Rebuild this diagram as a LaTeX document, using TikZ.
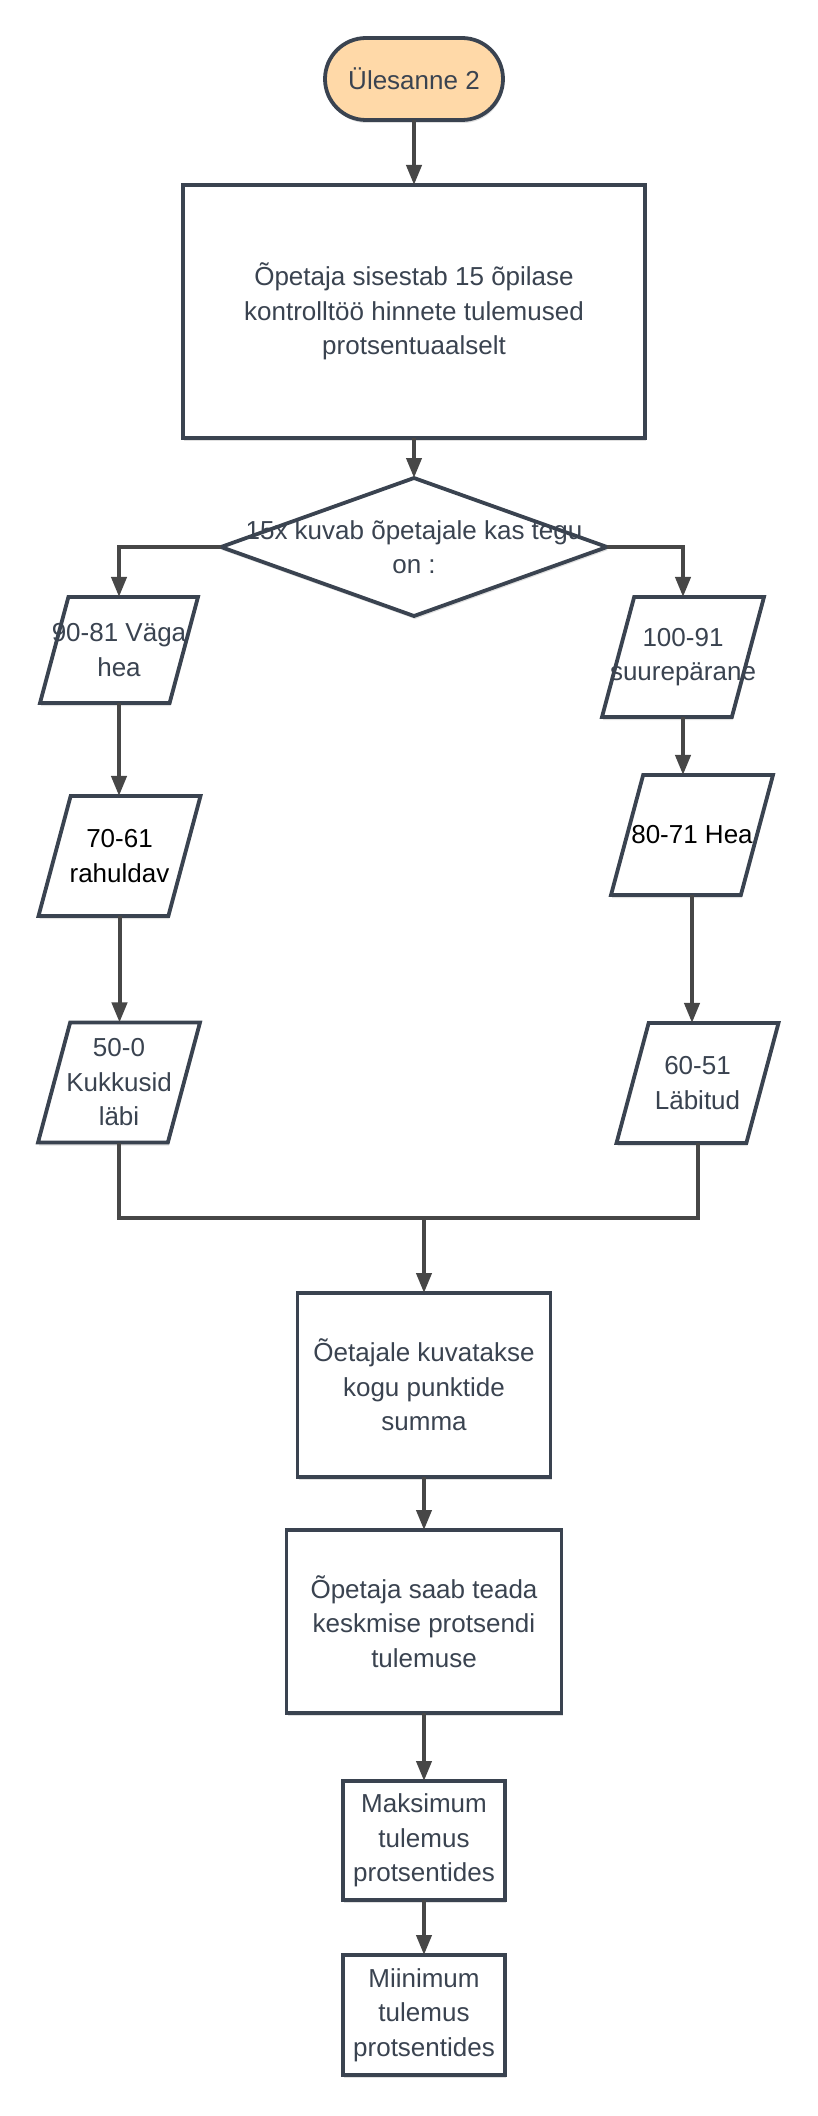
\documentclass[tikz,border=0pt]{standalone}
\usepackage{fontspec}
\setmainfont{Liberation Sans}
\usepackage{tikz}
\usetikzlibrary{
arrows.meta,
positioning,
shapes.geometric,
shadows
}

\definecolor{edgegray}{HTML}{3A4350}
\definecolor{linegray}{HTML}{474747}
\definecolor{startfill}{HTML}{FFD9A8}

\begin{document}
\begin{tikzpicture}[
x=1pt,y=1pt,
every node/.style={font=\fontsize{26}{34.5}\selectfont,text=edgegray},
base/.style={
draw=edgegray,
line width=3.8pt,
fill=white,
outer sep=0pt,
align=center,
drop shadow={shadow xshift=1pt,shadow yshift=-3pt,opacity=0.12,fill=black}
},
box/.style={base,rectangle,inner sep=0pt},
terminal/.style={
base,
rectangle,
rounded corners=41pt,
fill=startfill,
minimum width=178pt,
minimum height=82pt
},
decision/.style={
base,
diamond,
inner sep=0pt,
minimum width=386pt,
minimum height=138pt
},
inout/.style={
base,
trapezium,
trapezium left angle=75,
trapezium right angle=105,
trapezium stretches body,
inner xsep=0pt,
inner ysep=60pt,
minimum width=162pt
},
arrow/.style={-{Triangle[length=20pt,width=15pt]},line width=4pt,draw=linegray},
line/.style={line width=4pt,draw=linegray}
]

\useasboundingbox (0,0) rectangle (818,-2116);

\node[terminal] (start) at (414,-79) {Ülesanne 2};

\node[box,minimum width=462pt,minimum height=253pt,below=65pt of start] (input) {
Õpetaja sisestab 15 õpilase\\
kontrolltöö hinnete tulemused\\
protsentuaalselt
};

\node[decision,below=40pt of input,
label={[align=center]center:{15x kuvab õpetajale kas tegu\\on :}}] (check) {};

% left column
\node[inout,inner ysep=53pt,minimum width=158pt,
label={[align=center]center:{90-81 Väga\\hea}}] (verygood) at (119,-650) {};

\node[inout,
label={[align=center,text=black]center:{70-61\\rahuldav}}] (satisf) at (119.5,-856) {};

\node[inout,
label={[align=center]center:{50-0\\Kukkusid\\läbi}}] (failed) at (119,-1082.5) {};

% right column
\node[inout,
label={[align=center]center:{100-91\\suurepärane}}] (excellent) at (683,-657) {};

\node[inout,
label={[text=black]center:{80-71 Hea}}] (good) at (692,-835) {};

\node[inout,
label={[align=center]center:{60-51\\Läbitud}}] (passed) at (697.5,-1083) {};

\coordinate (merge) at (424,-1218);

\node[box,minimum width=253pt,minimum height=184pt,below=75pt of merge] (total) {
Õetajale kuvatakse\\
kogu punktide\\
summa
};

\node[box,minimum width=275pt,minimum height=183pt,below=53pt of total] (average) {
Õpetaja saab teada\\
keskmise protsendi\\
tulemuse
};

\node[box,minimum width=162pt,minimum height=119pt,below=68pt of average] (maxres) {
Maksimum\\
tulemus\\
protsentides
};

\node[box,minimum width=162pt,minimum height=120pt,below=55pt of maxres] (minres) {
Miinimum\\
tulemus\\
protsentides
};

\draw[arrow] (start) -- (input);
\draw[arrow] (input) -- (check);
\draw[arrow] (check.west) -| (verygood.center |- verygood.north);
\draw[arrow] (check.east) -| (excellent.center |- excellent.north);

\draw[arrow] (verygood.center |- verygood.south) -- (verygood.center |- satisf.north);
\draw[arrow] (satisf.center |- satisf.south) -- (satisf.center |- failed.north);
\draw[arrow] (excellent.center |- excellent.south) -- (excellent.center |- good.north);
\draw[arrow] (good.center |- good.south) -- (good.center |- passed.north);

\draw[line] (failed.center |- failed.south) |- (merge) -| (passed.center |- passed.south);
\draw[arrow] (merge) -- (total);
\draw[arrow] (total) -- (average);
\draw[arrow] (average) -- (maxres);
\draw[arrow] (maxres) -- (minres);

\end{tikzpicture}
\end{document}
